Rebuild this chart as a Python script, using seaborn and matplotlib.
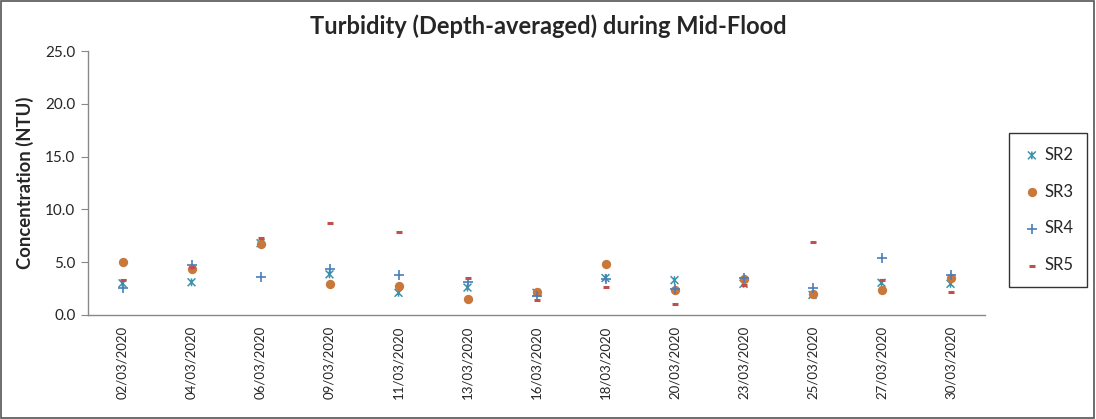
import matplotlib
matplotlib.use("Agg")
import matplotlib.pyplot as plt
import seaborn as sns
import pandas as pd
import numpy as np
from matplotlib.patches import Rectangle
from matplotlib.path import Path

dates = ["02/03/2020", "04/03/2020", "06/03/2020", "09/03/2020", "11/03/2020",
         "13/03/2020", "16/03/2020", "18/03/2020", "20/03/2020", "23/03/2020",
         "25/03/2020", "27/03/2020", "30/03/2020"]
sr2 = [3.0, 3.1, 6.8, 3.85, 2.1, 2.6, 2.1, 3.5, 3.3, 2.95, 1.9, 3.05, 2.95]
sr3 = [5.05, 4.4, 6.7, 2.9, 2.7, 1.5, 2.2, 4.8, 2.4, 3.4, 2.0, 2.35, 3.5]
sr4 = [2.6, 4.7, 3.6, 4.35, 3.8, 3.15, 1.8, 3.4, 2.5, 3.5, 2.6, 5.4, 3.75]
sr5 = [3.3, 4.5, 7.3, 8.75, 7.85, 3.5, 1.4, 2.65, 1.05, 2.8, 6.95, 3.35, 2.15]
series_names = ["SR2", "SR3", "SR4", "SR5"]

sns.set_style("white")
plt.rcParams['font.family'] = ['Lato', 'DejaVu Sans']

fig = plt.figure(figsize=(10.96, 4.19), dpi=100)
ax = fig.add_axes([88/1096, 1 - 315/419, (985-88)/1096, (315-51)/419])

# Excel-like "star" marker: an x with a short vertical bar
star = Path([(-1, -1), (1, 1), (-1, 1), (1, -1), (0, -1), (0, 1)],
            [Path.MOVETO, Path.LINETO, Path.MOVETO, Path.LINETO, Path.MOVETO, Path.LINETO])

styles = {
    "SR2": dict(marker=star, color="#3E93AA", edgecolor="#3E93AA", facecolor="none", s=32, linewidths=1.1),
    "SR3": dict(marker="o", color="#C9773A", s=45, linewidths=0),
    "SR4": dict(marker="+", color="#4A7EBB", s=50, linewidths=1.2),
    "SR5": dict(marker="_", color="#C0504D", s=25, linewidths=2.2),
}
data = {"SR2": sr2, "SR3": sr3, "SR4": sr4, "SR5": sr5}
xpos = np.arange(len(dates))
for name in series_names:
    df = pd.DataFrame({"x": xpos, "y": data[name]})
    sns.scatterplot(data=df, x="x", y="y", ax=ax, label=name, zorder=3, **styles[name])

ax.set_xlim(-0.5, len(dates) - 0.5)
ax.set_ylim(0, 25)
ax.set_yticks(np.arange(0, 25.1, 5))
ax.set_yticklabels([f"{v:.1f}" for v in np.arange(0, 25.1, 5)], fontsize=11)
ax.set_xticks(xpos)
ax.set_xticklabels(dates, rotation=90, fontsize=9.5)
ax.set_xticks(np.arange(-0.5, len(dates), 1), minor=True)
ax.tick_params(axis="x", which="major", length=0, pad=8)
ax.tick_params(axis="x", which="minor", length=5, color="#888888", direction="out")
ax.tick_params(axis="y", which="major", length=5, color="#888888", direction="out", left=True, pad=4)
for s in ["top", "right"]:
    ax.spines[s].set_visible(False)
for s in ["left", "bottom"]:
    ax.spines[s].set_color("#888888")
    ax.spines[s].set_linewidth(1.0)
ax.set_xlabel("")
ax.set_ylabel("Concentration (NTU)", fontsize=13.3, fontweight="bold", labelpad=8)
ax.grid(False)

fig.suptitle("Turbidity (Depth-averaged) during Mid-Flood", x=0.5, y=0.965,
             fontsize=17, fontweight="bold")

leg = ax.legend(loc="center", bbox_to_anchor=(1048/1096, 1 - 210/419),
                bbox_transform=fig.transFigure, frameon=True, fontsize=12,
                labelspacing=1.25, handletextpad=0.2, handlelength=1.1,
                borderpad=0.8, borderaxespad=0,
                fancybox=False, edgecolor="black")
leg.get_frame().set_linewidth(1.0)

fig.patches.append(Rectangle((0.001, 0.002), 0.997, 0.995, transform=fig.transFigure,
                             fill=False, edgecolor="#555555", linewidth=1.2))

fig.savefig("out.png", dpi=100, facecolor="white")
